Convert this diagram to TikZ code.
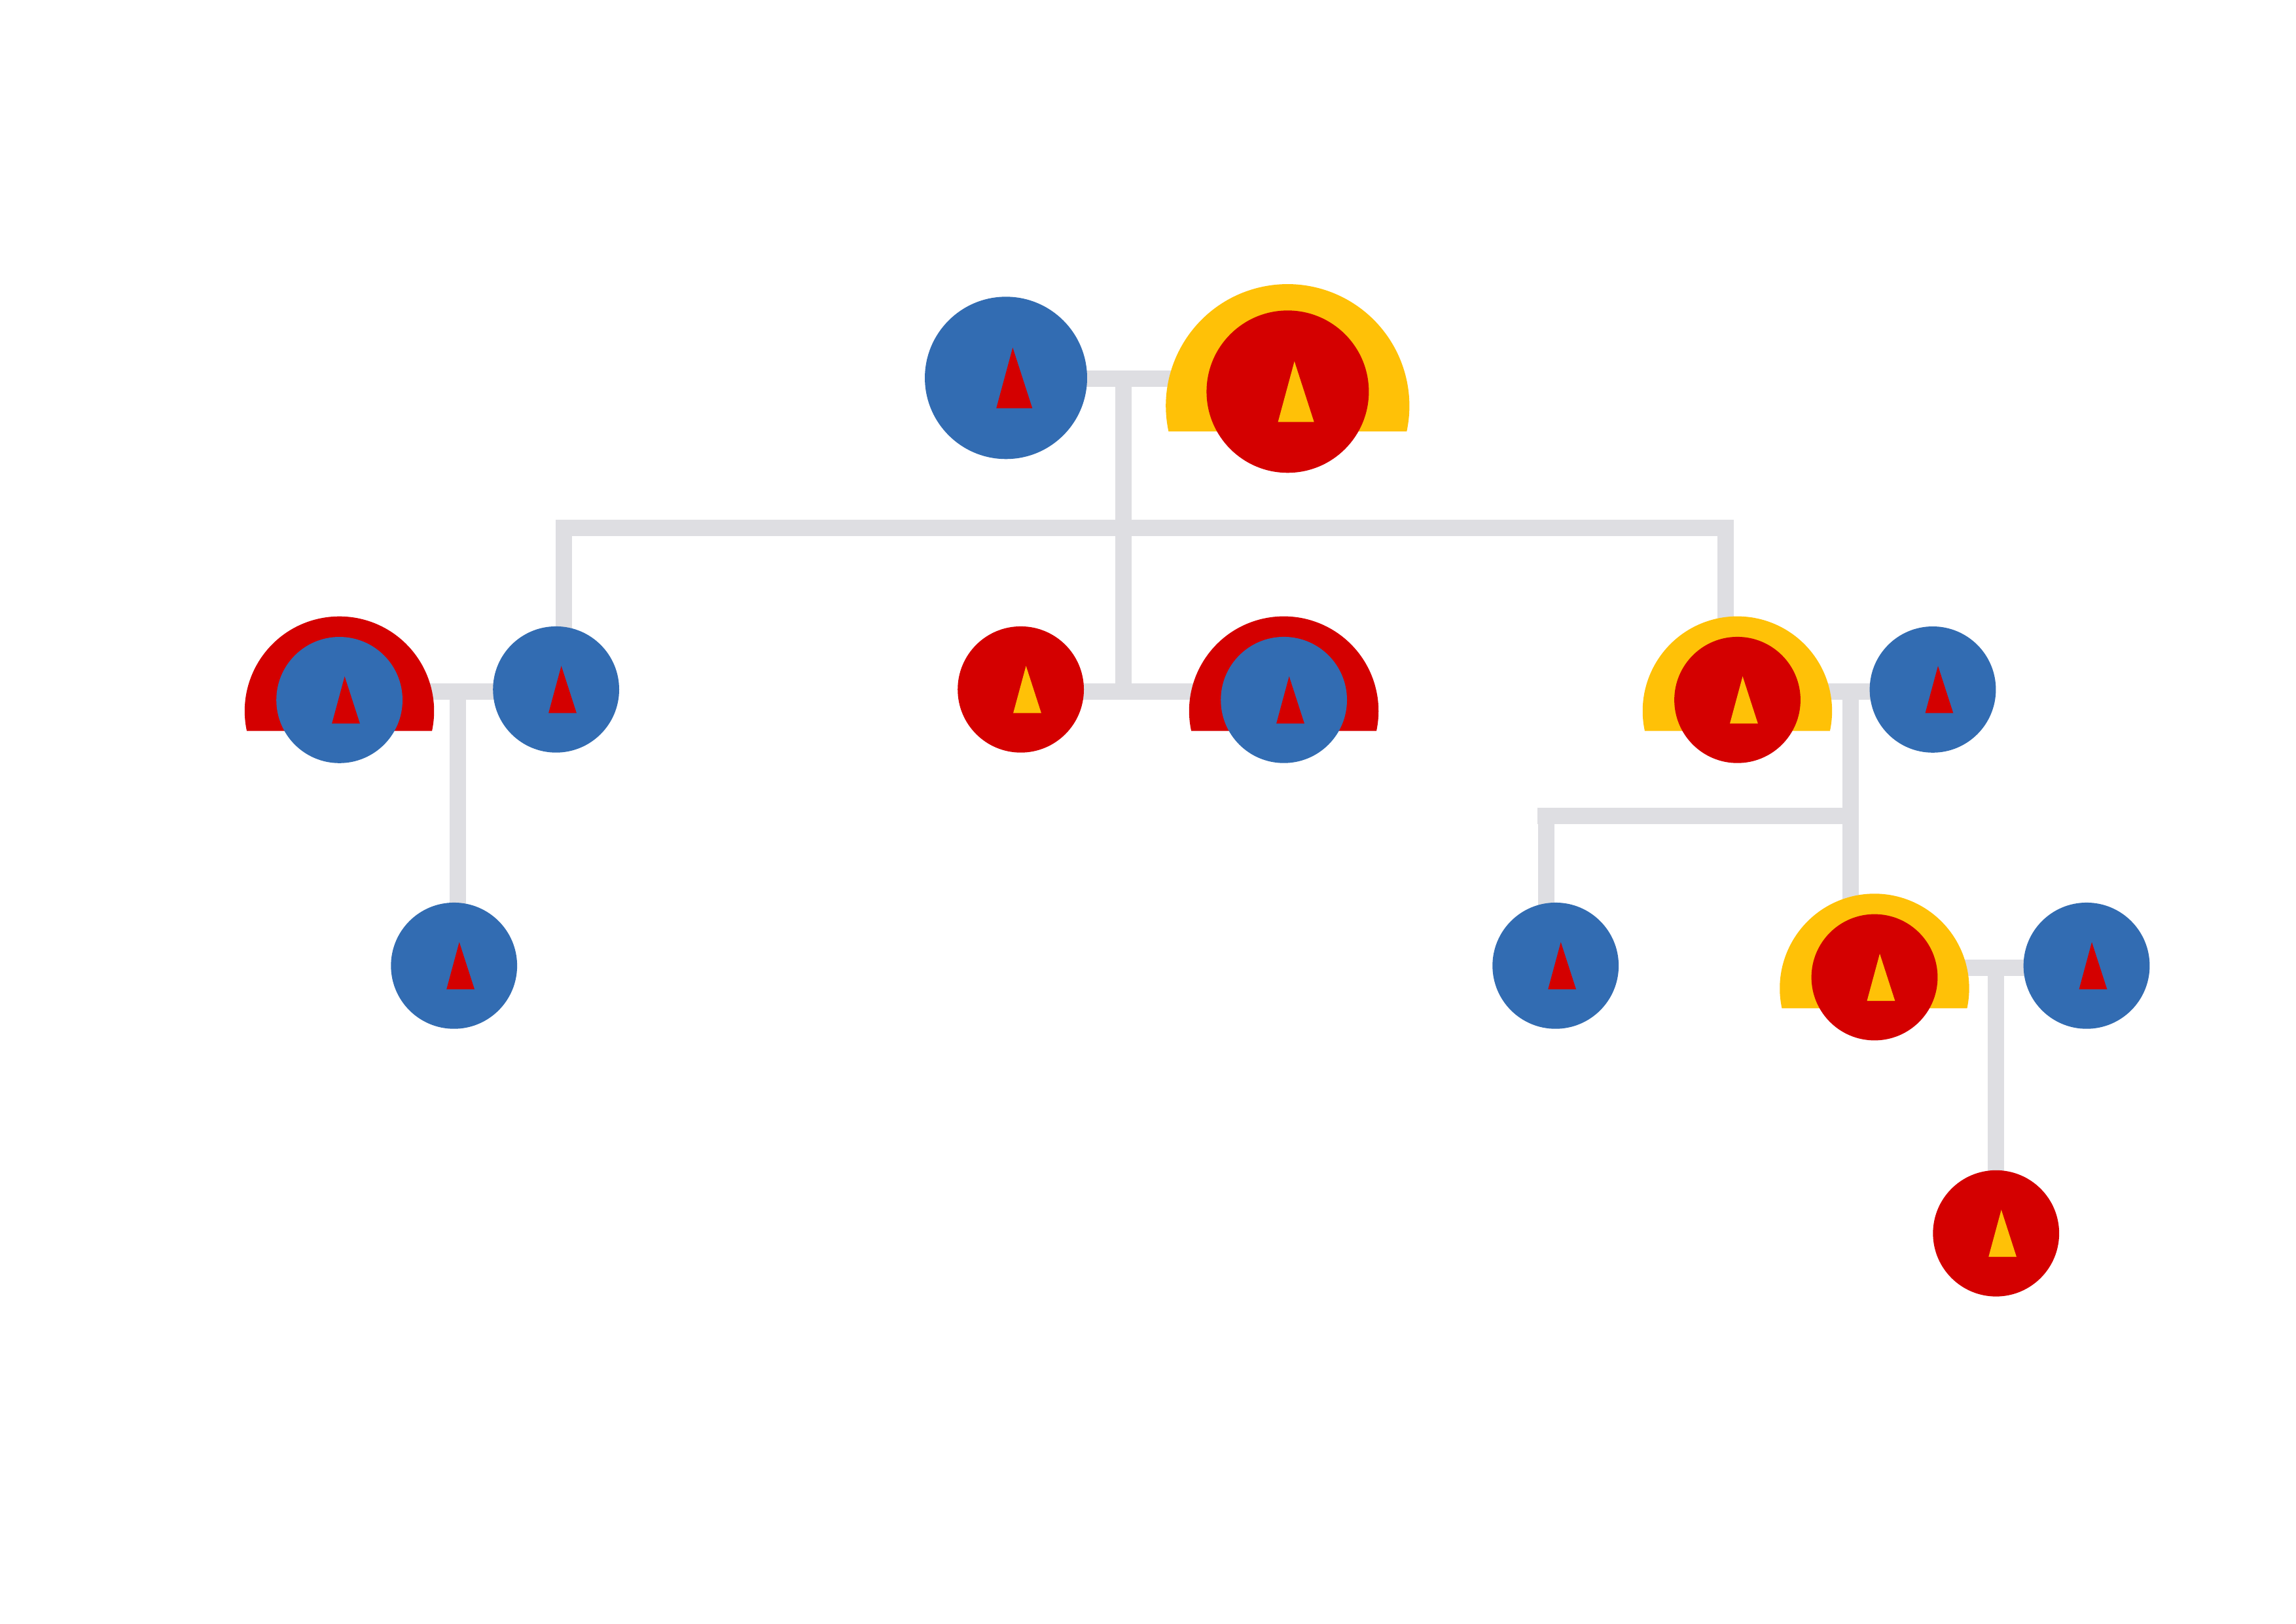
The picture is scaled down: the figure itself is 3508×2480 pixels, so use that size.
\documentclass[tikz,border=0pt]{standalone}
\usetikzlibrary{backgrounds}
\definecolor{kblue}{HTML}{326CB2}
\definecolor{kred}{HTML}{D40000}
\definecolor{kyellow}{HTML}{FFC107}
\definecolor{kgray}{HTML}{DEDEE2}
\tikzset{
  x=0.1mm, y=-0.1mm,
  link/.style={draw=kgray, line width=2.5mm, line join=miter, line cap=butt},
  person/.style={circle, inner sep=0pt, outer sep=0pt, draw=none}
}
% name, x, y, factor, body colour, triangle colour, halo colour (empty = none)
\newcommand\kperson[7]{%
  \begin{scope}[shift={(#2,#3)}, scale=#4]
    \if\relax\detokenize{#7}\relax\else
      \fill[#7] (-141.55,47.3) arc[start angle=192.1, end angle=-12.1, radius=14.47mm] -- cycle;
    \fi
  \end{scope}
  \node[person, fill=#5, minimum size=#4*19.28mm] (#1) at (#2,#3) {};
  \begin{scope}[shift={(#2,#3)}, scale=#4]
    \fill[#6] (8,-36) -- (31.3,36) -- (-11.5,36) -- cycle;
  \end{scope}%
}
\begin{document}
\begin{tikzpicture}
\useasboundingbox (0,0) rectangle (3508,2480);

\kperson{A}{1537}{577.3}{1.286}{kblue}{kred}{}
\kperson{B}{1967.4}{598.3}{1.286}{kred}{kyellow}{kyellow}
\kperson{C}{518.6}{1069.4}{1}{kblue}{kred}{kred}
\kperson{D}{849.6}{1053.3}{1}{kblue}{kred}{}
\kperson{E}{1559.6}{1053.3}{1}{kred}{kyellow}{}
\kperson{F}{1961.6}{1069.3}{1}{kblue}{kred}{kred}
\kperson{G}{2654.5}{1069.3}{1}{kred}{kyellow}{kyellow}
\kperson{H}{2953}{1053.4}{1}{kblue}{kred}{}
\kperson{I}{693.7}{1475.3}{1}{kblue}{kred}{}
\kperson{J}{2376.7}{1475.3}{1}{kblue}{kred}{}
\kperson{K}{2864}{1493}{1}{kred}{kyellow}{kyellow}
\kperson{L}{3188}{1475.3}{1}{kblue}{kred}{}
\kperson{M}{3049.7}{1884.2}{1}{kred}{kyellow}{}

\coordinate (j1) at (1716.5,578);
\coordinate (j2) at (1716.5,806.5);
\coordinate (j3) at (1716.5,1056.5);
\coordinate (j4) at (699.5,1056.5);
\coordinate (j5) at (2827.3,1056.5);
\coordinate (j6) at (2827.3,1246.5);
\coordinate (j7) at (3049.5,1478.3);
\coordinate (c1) at (861.5,1000);
\coordinate (g1) at (2636.5,1000);
\coordinate (i1) at (699.5,1420);
\coordinate (l1) at (2827.3,1420);
\coordinate (m1) at (3049.5,1830);
\coordinate (e1) at (2349,1246.5);
\coordinate (e2) at (2362.6,1246.5);
\coordinate (e3) at (2362.6,1420);

\begin{scope}[on background layer]
  \fill[white] (0,0) rectangle (3508,2480);
  \draw[link] (A.center |- j1) -- (B.center |- j1);
  \draw[link] (j1) -- (j3);
  \draw[link] (c1) |- (j2) -| (g1);
  \draw[link] (C.center |- j4) -- (D.center |- j4);
  \draw[link] (j4) -- (i1);
  \draw[link] (E.center |- j3) -- (F.center |- j3);
  \draw[link] (G.center |- j5) -- (H.center |- j5);
  \draw[link] (j5) -- (l1);
  \draw[link] (e1) -- (j6);
  \draw[link] (e2) -- (e3);
  \draw[link] (K.center |- j7) -- (L.center |- j7);
  \draw[link] (j7) -- (m1);
\end{scope}
\end{tikzpicture}
\end{document}
